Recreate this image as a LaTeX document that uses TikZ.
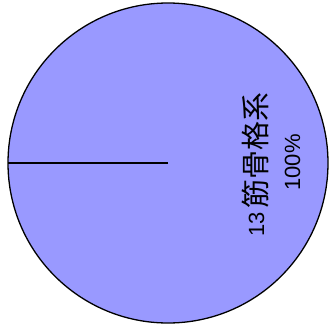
\documentclass[tikz,border=0pt]{standalone}
\usepackage{fontspec}
\setmainfont{Liberation Sans}
\newfontfamily\cjkfont{Noto Sans CJK JP}
\definecolor{piefill}{HTML}{9999FF}
\begin{document}
\begin{tikzpicture}[x=1pt,y=-1pt,
  slice/.style={fill=piefill,draw=black,line width=1.3pt},
  edge/.style={draw=black,line width=1.6pt},
  lbl/.style={rotate=90,font=\fontsize{22}{26}\selectfont,inner sep=0pt}]
\useasboundingbox (0,0) rectangle (329,333);
\coordinate (c) at (168,163);
\coordinate (rim) at (8,163);
\draw[slice] (c) circle[radius=160];
\draw[edge] (c) -- (rim);
\node[lbl] (t1) at (255,164.5) {\raisebox{2pt}{13}\hspace{3pt}{\cjkfont\fontsize{29}{32}\selectfont 筋骨格系}};
\node[lbl] (t2) at (292.5,162.5) {100\%};
\end{tikzpicture}
\end{document}
